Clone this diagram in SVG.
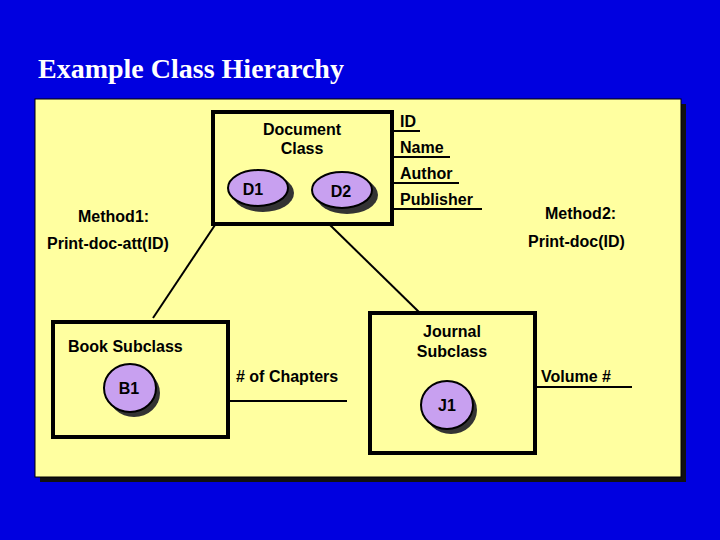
<svg xmlns="http://www.w3.org/2000/svg" width="720" height="540" viewBox="0 0 720 540">
<style>
.t{font-family:"Liberation Sans",Arial,sans-serif;font-weight:bold;font-size:16px;fill:#000}
.b{fill:none;stroke:#000;stroke-width:4}
.l{stroke:#000;stroke-width:2;fill:none}
.e{fill:#C8A0F0;stroke:#000;stroke-width:2}
.s{fill:#333}
</style>
<rect width="720" height="540" fill="#0000E0"/>
<text x="38" y="78" font-family="Liberation Serif,serif" font-weight="bold" font-size="28" fill="#fff">Example Class Hierarchy</text>
<rect x="40" y="104" width="646" height="378" fill="#111"/>
<rect x="35" y="99" width="646" height="378" fill="#FFFFA0" stroke="#000" stroke-width="1"/>
<g id="connectors">
<line class="l" x1="215" y1="225" x2="153" y2="318"/>
<line class="l" x1="330" y1="225" x2="420" y2="313"/>
<line class="l" x1="228" y1="401" x2="347" y2="401"/>
<line class="l" x1="535" y1="387" x2="632" y2="387"/>
<line class="l" x1="392" y1="131" x2="420" y2="131"/>
<line class="l" x1="392" y1="157" x2="450" y2="157"/>
<line class="l" x1="392" y1="183" x2="459" y2="183"/>
<line class="l" x1="392" y1="209" x2="482" y2="209"/>
</g>
<g id="document">
<rect class="b" x="213" y="112" width="179" height="112"/>
<text class="t" x="302" y="135" text-anchor="middle">Document</text>
<text class="t" x="302" y="154" text-anchor="middle">Class</text>
</g>
<g id="d1"><ellipse class="s" cx="263" cy="193" rx="31" ry="19"/><ellipse class="e" cx="258" cy="188" rx="30" ry="18"/><text class="t" x="253" y="195" text-anchor="middle">D1</text></g>
<g id="d2"><ellipse class="s" cx="347" cy="195" rx="31" ry="19"/><ellipse class="e" cx="342" cy="190" rx="30" ry="18"/><text class="t" x="341" y="197" text-anchor="middle">D2</text></g>
<g id="attrs">
<text class="t" x="400" y="127">ID</text>
<text class="t" x="400" y="153">Name</text>
<text class="t" x="400" y="179">Author</text>
<text class="t" x="400" y="205">Publisher</text>
</g>
<g id="method1"><text class="t" x="78" y="222">Method1:</text><text class="t" x="47" y="249">Print-doc-att(ID)</text></g>
<g id="method2"><text class="t" x="545" y="219">Method2:</text><text class="t" x="528" y="247">Print-doc(ID)</text></g>
<g id="book">
<rect class="b" x="53" y="322" width="175" height="115"/>
<text class="t" x="68" y="352">Book Subclass</text>
<ellipse class="s" cx="134" cy="393" rx="26" ry="24"/><ellipse class="e" cx="130" cy="388" rx="26" ry="24"/><text class="t" x="129" y="394" text-anchor="middle">B1</text>
<text class="t" x="236" y="382"># of Chapters</text>
</g>
<g id="journal">
<rect class="b" x="370" y="313" width="165" height="140"/>
<text class="t" x="452" y="337" text-anchor="middle">Journal</text>
<text class="t" x="452" y="357" text-anchor="middle">Subclass</text>
<ellipse class="s" cx="451" cy="410" rx="26" ry="24"/><ellipse class="e" cx="447" cy="405" rx="26" ry="24"/><text class="t" x="447" y="411" text-anchor="middle">J1</text>
<text class="t" x="541" y="382">Volume #</text>
</g>
</svg>
